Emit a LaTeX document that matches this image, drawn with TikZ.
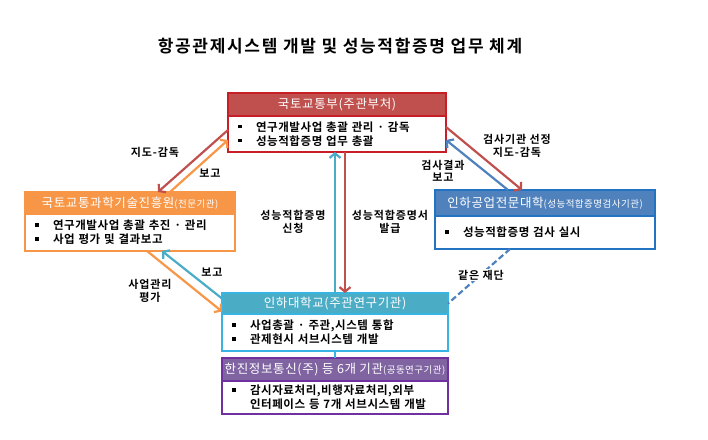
\documentclass[tikz,border=0pt]{standalone}
\usepackage{fontspec}
\setmainfont{Noto Sans CJK KR}[BoldFont={Noto Sans CJK KR Bold}]
\usetikzlibrary{arrows.meta,positioning}

\definecolor{hred}{RGB}{192,80,77}
\definecolor{bred}{RGB}{200,30,40}
\definecolor{horange}{RGB}{247,150,70}
\definecolor{hblue}{RGB}{79,129,189}
\definecolor{bblue}{RGB}{35,115,195}
\definecolor{hcyan}{RGB}{75,172,198}
\definecolor{bcyan}{RGB}{55,180,225}
\definecolor{hpurple}{RGB}{128,100,162}
\definecolor{bpurple}{RGB}{112,48,160}

\newcommand\headfont{\fontsize{12.5}{14}\selectfont\addfontfeature{LetterSpace=5}}
\newcommand\subfont{\fontsize{9.5}{12}\selectfont}
\newcommand\bodyfont{\fontsize{11.5}{14}\selectfont\bfseries\addfontfeature{LetterSpace=5}}
\newcommand\lblfont{\fontsize{11}{12.5}\selectfont\bfseries\addfontfeature{LetterSpace=8}}
\newcommand\bul{\makebox[18pt][l]{\rule[3pt]{3.5pt}{3.5pt}}}

\begin{document}
\begin{tikzpicture}[x=1pt,y=-1pt,
	head/.style 2 args={draw=#2, fill=#1, line width=1.6pt, anchor=north west, inner sep=0pt, outer sep=0pt, text=white, font=\headfont},
	body/.style={draw=#1, fill=white, line width=1.8pt, anchor=north west, inner xsep=10pt, inner ysep=0pt, outer sep=0pt, align=left, font=\bodyfont},
	lbl/.style={font=\lblfont, align=center, inner sep=1pt},
	arr/.style={line width=2.2pt, -{Straight Barb[length=4.5pt,width=11pt]}}]

	\useasboundingbox (0,0) rectangle (708,439);

	% title
	\node[font=\fontsize{17}{19}\selectfont\bfseries\addfontfeature{LetterSpace=10}] (title) at (340,46) {항공관제시스템 개발 및 성능적합증명 업무 체계};

	%---------------------
	% boxes
	%---------------------
	% 국토교통부
	\node[head={hred}{bred}, minimum width=218pt, minimum height=23pt] (moth) at (228,93) {국토교통부(주관부처)};
	\node[body=bred, text width=198pt, minimum height=36pt] (motb) at (228,116) {\bul 연구개발사업 총괄 관리 · 감독\\ \bul 성능적합증명 업무 총괄};

	% 진흥원
	\node[head={horange}{horange}, minimum width=210pt, minimum height=22pt] (kaiah) at (25,192) {국토교통과학기술진흥원{\subfont(전문기관)}};
	\node[body=horange, text width=190pt, minimum height=37pt] (kaiab) at (25,214) {\bul 연구개발사업 총괄 추진 · 관리\\ \bul 사업 평가 및 결과보고};

	% 인하공업전문대학
	\node[head={hblue}{bblue}, minimum width=220pt, minimum height=26pt] (itch) at (435,190) {인하공업전문대학{\subfont(성능적합증명검사기관)}};
	\node[body=bblue, text width=200pt, minimum height=33pt] (itcb) at (435,216) {\bul 성능적합증명 검사 실시};

	% 인하대학교
	\node[head={hcyan}{bcyan}, minimum width=226pt, minimum height=21pt] (inhah) at (222,293) {인하대학교(주관연구기관)};
	\node[body=bcyan, text width=206pt, minimum height=37pt] (inhab) at (222,314) {\bul 사업총괄 · 주관,시스템 통합\\ \bul 관제현시 서브시스템 개발};

	% 한진정보통신
	\node[head={hpurple}{bpurple}, minimum width=226pt, minimum height=23pt] (hjh) at (222,358) {한진정보통신(주) 등 6개 기관{\subfont(공동연구기관)}};
	\node[body=bpurple, text width=206pt, minimum height=33pt] (hjb) at (222,381) {\bul 감시자료처리,비행자료처리,외부\\ \hspace*{18pt}인터페이스 등 7개 서브시스템 개발};

	%---------------------
	% arrows
	%---------------------
	% 국토교통부 - 진흥원
	\draw[arr,hred] ([yshift=4pt]motb.west) -- ([xshift=28pt]kaiah.north);
	\draw[arr,horange] ([xshift=40pt]kaiah.north) -- ([yshift=-6pt]motb.west);
	\node[lbl] (l1) at (155,152) {지도-감독};
	\node[lbl] (l2) at (210,173) {보고};

	% 진흥원 - 인하대학교
	\draw[arr,horange] ([xshift=17pt]kaiab.south) -- ([yshift=-8pt]inhah.west);
	\draw[arr,hcyan] ([yshift=5pt]inhah.west) -- ([xshift=32pt]kaiab.south);
	\node[lbl] (l3) at (212,272) {보고};
	\node[lbl] (l4) at (150,291) {사업관리\\평가};

	% 국토교통부 - 인하대학교
	\coordinate (rv) at ([xshift=8pt]motb.south);
	\draw[arr,hcyan] (inhah.north) -- (inhah.north |- motb.south);
	\draw[arr,hred] (rv) -- (rv |- inhah.north);
	\node[lbl] (l5) at (293,222) {성능적합증명\\신청};
	\node[lbl] (l6) at (390,222) {성능적합증명서\\발급};

	% 국토교통부 - 인하공업전문대학
	\draw[arr,hred] ([yshift=7pt]motb.east) -- ([xshift=-23pt]itch.north);
	\draw[arr,hblue] ([xshift=-37pt]itch.north) -- ([yshift=-6pt]motb.east);
	\node[lbl] (l7) at (517,146) {검사기관 선정\\지도-감독};
	\node[lbl] (l8) at (443,171) {검사결과\\보고};

	% 같은 재단
	\draw[hblue, line width=2.2pt, dash pattern=on 6pt off 3pt] ([xshift=-35pt]itcb.south) -- (inhah.east);
	\node[lbl, fill=white] (l9) at (481,275) {같은 재단};

	% 인하대학교 - 한진
	\draw[bcyan, line width=1.8pt] (inhab.south) -- (hjh.north);

\end{tikzpicture}
\end{document}
